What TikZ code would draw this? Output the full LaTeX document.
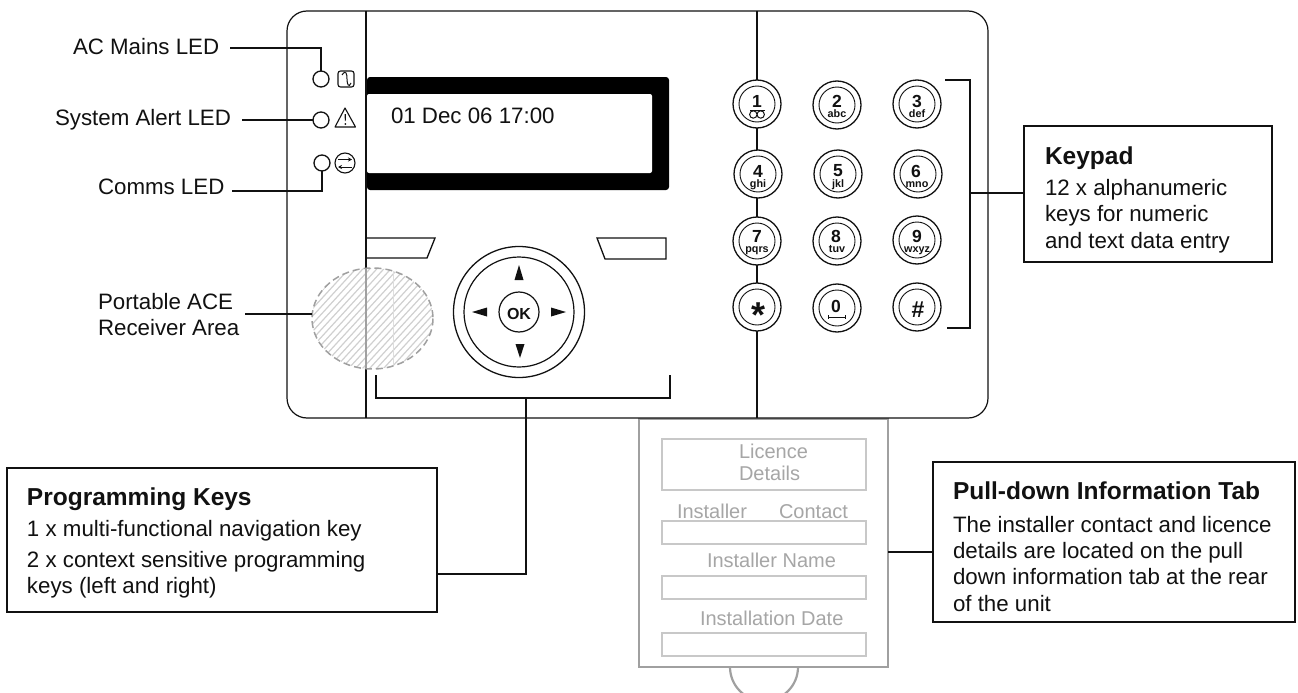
\documentclass[tikz,border=0pt]{standalone}
\usepackage{fontspec}
\setmainfont{Liberation Sans}
\usetikzlibrary{calc,arrows.meta,shapes.geometric}
\definecolor{inkc}{HTML}{111111}
\definecolor{tabc}{HTML}{A0A0A0}
\definecolor{tabin}{HTML}{C8C8C8}
\definecolor{tabt}{HTML}{A6A6A6}
\newcommand{\fs}[1]{\fontsize{#1}{#1}\selectfont}
\tikzset{
  every node/.style={inner sep=0pt,outer sep=0pt,text=inkc},
  panel/.style={draw=inkc,line width=1.05pt},
  leader/.style={draw=inkc,line width=1.6pt},
  led/.style={circle,draw=inkc,line width=1.3pt,minimum size=16pt,fill=white},
  lab/.style={anchor=base west,font=\fs{22.3}},
  infobox/.style={draw=inkc,line width=1.6pt,fill=white,anchor=north west},
  boxhead/.style={anchor=base west,font=\fs{24.5}\bfseries},
  boxbody/.style={anchor=base west,font=\fs{22.3},align=left},
  keyo/.style={circle,draw=inkc,line width=1.3pt,minimum size=48pt,fill=white},
  keyi/.style={circle,draw=inkc,line width=0.9pt,minimum size=36pt},
  kd/.style={anchor=base,font=\fs{17.5}\bfseries},
  ks/.style={anchor=base,font=\fs{10.8}\bfseries},
  tabbox/.style={draw=tabin,line width=2pt,anchor=north west},
  tabtext/.style={anchor=base west,font=\fs{20},text=tabt},
}
\newcommand{\keyat}[3]{% name, x, y
  \node[keyo] (#1) at (#2,#3) {};
  \node[keyi] (#1i) at (#2,#3) {};
}
\begin{document}
\begin{tikzpicture}[x=1pt,y=-1pt]
\useasboundingbox (0,0) rectangle (1298,693);
\fill[white] (0,0) rectangle (1298,693);

% tab behind the body
\draw[tabc,line width=2.2pt] (730,667) arc[start angle=180,end angle=0,x radius=34,y radius=34];
\node[draw=tabc,line width=2.5pt,fill=white,minimum width=249pt,minimum height=248pt,anchor=north west] (tab) at (639,419) {};
\node[tabbox,minimum width=204pt,minimum height=51pt] (b1) at (662,439) {};
\node[tabbox,minimum width=204pt,minimum height=23pt] (b2) at (662,521) {};
\node[tabbox,minimum width=204pt,minimum height=23pt] (b3) at (662,576) {};
\node[tabbox,minimum width=204pt,minimum height=23pt] (b4) at (662,633) {};
\node[tabtext] (t1) at (739,458) {Licence};
\node[tabtext] (t2) at (739,480) {Details};
\node[tabtext] (t3) at (677,518) {Installer};
\node[tabtext] (t4) at (779,518) {Contact};
\node[tabtext] (t5) at (707,567) {Installer Name};
\node[tabtext] (t6) at (700,625) {Installation Date};

% body
\node[draw=inkc,line width=1.2pt,rounded corners=20pt,minimum width=701pt,minimum height=407pt,anchor=north west] (body) at (287,11) {};
\draw[panel] (366,11) -- (366,418);
\draw[panel] (757,11) -- (757,418);

% display
\fill[black,rounded corners=3pt] (367,77) rectangle (669,190);
\fill[white,rounded corners=2pt] (367,94) -- (652,94) -- (652,173) -- (367,173) -- cycle;
\node[anchor=base west,font=\fs{22.3}] (disp) at (391,123) {01 Dec 06 17:00};

% LEDs
\node[led] (led1) at (321,79) {};
\node[led] (led2) at (321,120) {};
\node[led] (led3) at (322,163) {};
% icons
\draw[inkc,line width=1.1pt,rounded corners=2.5pt] (338,71) rectangle (354,87);
\draw[inkc,line width=1pt] (342,75) .. controls (346,69) and (347,74) .. (347,79) .. controls (347,85) and (349,88) .. (351,83);
\draw[inkc,line width=1.1pt,line join=round] (345,108) -- (355.5,127) -- (335,127) -- cycle;
\fill[inkc] (344.5,114) -- (346,114) -- (345.7,121) -- (344.9,121) -- cycle;
\fill[inkc] (345.3,124) circle (1pt);
\draw[inkc,line width=1.1pt] (345,163) circle (10);
\draw[inkc,line width=0.7pt,-{Stealth[length=4pt,width=4pt]}] (338,159.5) -- (352,159.5);
\draw[inkc,line width=0.7pt,-{Stealth[length=4pt,width=4pt]}] (352,167) -- (338,167);

% left labels
\node[lab] (lac) at (73,55) {AC Mains LED};
\node[lab] (lal) at (55,125) {System Alert LED};
\node[lab] (lco) at (98,194) {Comms LED};
\node[lab] (lp1) at (98,309) {Portable ACE};
\node[lab] (lp2) at (98,335) {Receiver Area};
\coordinate (sac) at (230,48);
\coordinate (sal) at (242,120);
\coordinate (sco) at (232,191);
\coordinate (spo) at (245,314);
\draw[leader] (sac) -| (led1);
\draw[leader] (sal) -- (led2);
\draw[leader] (sco) -| (led3);

% receiver area
\begin{scope}
  \clip (372.5,318.5) ellipse [x radius=60.5,y radius=50.5];
  \fill[white] (310,266) rectangle (436,372);
  \foreach \i in {0,...,32} {
    \draw[tabin!85,line width=1.2pt] (240+\i*7,380) -- (240+\i*7+110,260);
  }
  \draw[tabc,line width=1.2pt] (366,260) -- (366,375);
  \draw[tabin!60,line width=0.7pt] (393,260) -- (393,375);
\end{scope}
\node[ellipse,minimum width=121pt,minimum height=101pt] (rec) at (372.5,318.5) {};
\draw[tabc,line width=1.5pt,dash pattern=on 7pt off 4pt] (372.5,318.5) ellipse [x radius=60.5,y radius=50.5];
\draw[leader] (spo) -- (spo -| rec.west);

% soft keys
\draw[inkc,line width=1.3pt] (366,238) -- (435,238) -- (427,258) -- (366,258);
\draw[inkc,line width=1.3pt] (597,238) -- (666,238) -- (666,259) -- (605,259) -- cycle;

% navigation key
\node[keyo,minimum size=131pt] (nav) at (519,312) {};
\node[keyi,minimum size=110pt,line width=1.2pt] (navi) at (519,312) {};
\node[circle,draw=inkc,line width=1.2pt,minimum size=40pt] (ok) at (519,312) {};
\node[anchor=base,font=\fs{16}\bfseries] (oktxt) at (519,319) {OK};
\fill[inkc] (519,265) -- (523.5,280) -- (514.5,280) -- cycle;
\fill[inkc] (520,358) -- (524.5,344) -- (515.5,344) -- cycle;
\fill[inkc] (472,312) -- (487,307.5) -- (487,316.5) -- cycle;
\fill[inkc] (566,312) -- (551,307.5) -- (551,316.5) -- cycle;

% keypad
\keyat{k1}{757}{104}
\keyat{k2}{837}{105}
\keyat{k3}{917}{104}
\keyat{k4}{758}{174}
\keyat{k5}{838}{174}
\keyat{k6}{918}{174}
\keyat{k7}{757}{241}
\keyat{k8}{837}{241}
\keyat{k9}{917}{240}
\keyat{ks}{757}{307}
\keyat{k0}{837}{308}
\keyat{kh}{917}{307}
\node[kd] (d1) at (757,107) {1};
\draw[inkc,line width=1pt] (753.3,114.5) circle (3.7) (760.7,114.5) circle (3.7);
\draw[inkc,line width=1pt] (750,110.8) -- (765,110.8);
\node[kd] (d2) at (837,107) {2}; \node[ks] (s2) at (837,117) {abc};
\node[kd] (d3) at (917,107) {3}; \node[ks] (s3) at (917,117) {def};
\node[kd] (d4) at (758,177) {4}; \node[ks] (s4) at (758,187) {ghi};
\node[kd] (d5) at (838,176) {5}; \node[ks] (s5) at (838,187) {jkl};
\node[kd] (d6) at (916,177) {6}; \node[ks] (s6) at (917,187) {mno};
\node[kd] (d7) at (757,242) {7}; \node[ks] (s7) at (757,252.5) {pqrs};
\node[kd] (d8) at (836,242) {8}; \node[ks] (s8) at (837,252.5) {tuv};
\node[kd] (d9) at (917,242) {9}; \node[ks] (s9) at (917,252.5) {wxyz};
\node[anchor=base,font=\fs{36}\bfseries] (dst) at (758,327) {*};
\node[kd] (d0) at (836,312) {0};
\draw[inkc,line width=0.8pt] (828,317) -- (845,317) (828,315) -- (828,319) (845,315) -- (845,319);
\node[anchor=base,font=\fs{23}\bfseries] (dh) at (918,317) {\#};

% keypad bracket + box
\coordinate (kt) at (945,80);
\coordinate (kb) at (947,328);
\coordinate (kc) at (970,193);
\draw[leader] (kt) -- (970,80) -- (970,328) -- (kb);
\node[infobox,minimum width=248pt,minimum height=136pt] (kpbox) at (1024,126) {};
\draw[leader] (kc) -- (kc -| kpbox.west);
\node[boxhead] (kph) at (1045,164) {Keypad};
\node[boxbody] (kpb) at (1045,248) {12 x alphanumeric\\[4pt]keys for numeric\\[4pt]and text data entry};

% programming keys bracket + box
\coordinate (pl) at (376,375);
\coordinate (pr) at (670,375);
\coordinate (pc) at (526,398);
\draw[leader] (pl) -- (376,398) -- (670,398) -- (pr);
\node[infobox,minimum width=430pt,minimum height=144pt] (pgbox) at (7,468) {};
\coordinate (pe) at (437,574);
\draw[leader] (pc) |- (pe);
\node[boxhead] (pgh) at (27,505) {Programming Keys};
\node[boxbody] (pgb) at (27,593) {1 x multi-functional navigation key\\[9pt]2 x context sensitive programming\\[3pt]keys (left and right)};

% tab info box
\node[infobox,minimum width=362pt,minimum height=160pt] (pdbox) at (933,462) {};
\coordinate (te) at (888,552);
\draw[leader] (te) -- (te -| pdbox.west);
\node[boxhead] (pdh) at (953,499) {Pull-down Information Tab};
\node[boxbody] (pdb) at (953,611) {The installer contact and licence\\[4pt]details are located on the pull\\[4pt]down information tab at the rear\\[4pt]of the unit};
\end{tikzpicture}
\end{document}
